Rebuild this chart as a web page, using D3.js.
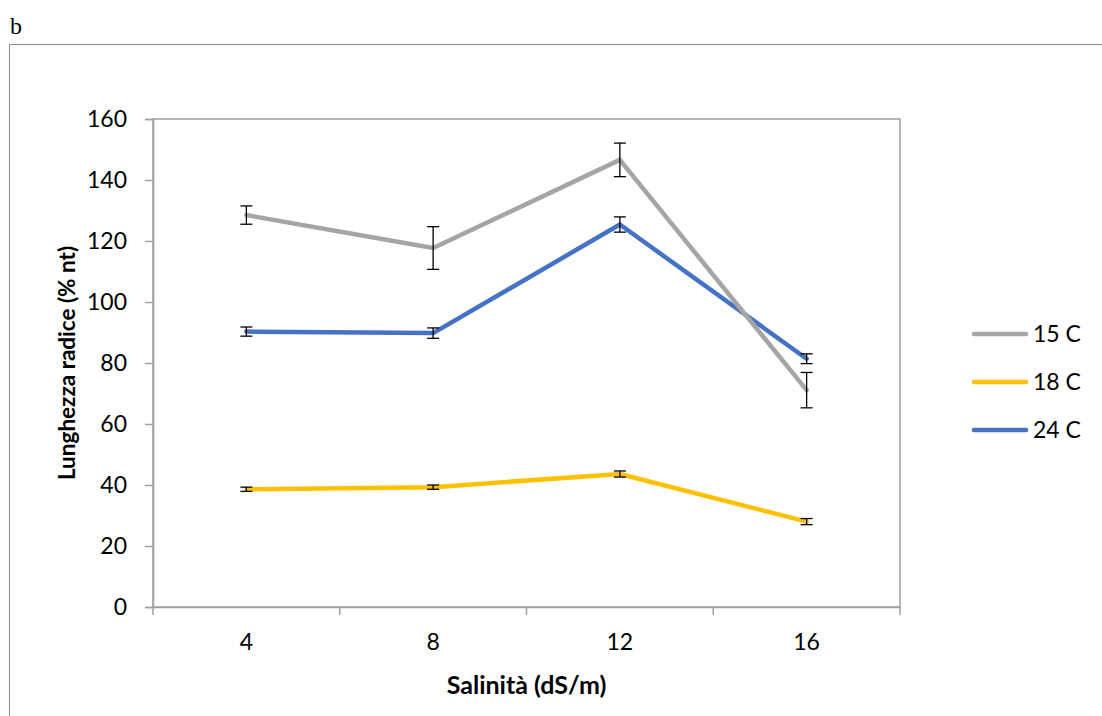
<!DOCTYPE html>
<html><head><meta charset="utf-8">
<script src="https://cdn.jsdelivr.net/npm/d3@7"></script>
<style>body{margin:0;background:#fff;} svg{display:block;}</style>
</head><body>
<svg id="chart" width="1102" height="716"></svg>
<script>
const categories = ["4", "8", "12", "16"];
const seriesNames = ["15 C", "18 C", "24 C"];
const values15 = [128.5, 117.7, 146.6, 71.1];
const errors15 = [3.0, 7.0, 5.5, 5.8];
const values18 = [38.6, 39.3, 43.6, 28.0];
const errors18 = [0.7, 0.7, 1.0, 1.0];
const values24 = [90.3, 89.8, 125.4, 81.4];
const errors24 = [1.5, 1.7, 2.5, 1.6];
const yTicks = [0, 20, 40, 60, 80, 100, 120, 140, 160];
const colors = ["#A5A5A5", "#FFC000", "#4472C4"];

const series = [
  {name: seriesNames[0], values: values15, errors: errors15, color: colors[0]},
  {name: seriesNames[1], values: values18, errors: errors18, color: colors[1]},
  {name: seriesNames[2], values: values24, errors: errors24, color: colors[2]}
];
const drawOrder = [1, 2, 0];

const svg = d3.select("#chart");
const font = "Lato, 'Open Sans', sans-serif";
const fs = 23;

// outer frame (top and left edges)
svg.append("path").attr("d", "M9.5,716 V44.5 H1102")
  .attr("fill", "none").attr("stroke", "#8c8c8c").attr("stroke-width", 1);
svg.append("text").attr("x", 10).attr("y", 34).text("b")
  .attr("font-family", "'Liberation Serif', 'Times New Roman', serif")
  .attr("font-size", 24).attr("fill", "#000");

const L = 153, R = 900, T = 119, B = 607;
const x = d3.scaleBand().domain(categories).range([L, R]).paddingInner(0).paddingOuter(0);
const y = d3.scaleLinear().domain([0, 160]).range([B, T]);

// plot area border
svg.append("rect").attr("x", L).attr("y", T).attr("width", R - L).attr("height", B - T)
  .attr("fill", "none").attr("stroke", "#a0a0a0").attr("stroke-width", 1.5);

// y axis
const yAxis = d3.axisLeft(y).tickValues(yTicks).tickSize(8).tickPadding(18).tickFormat(d3.format("d"));
const gy = svg.append("g").attr("transform", `translate(${L},0)`).call(yAxis);
gy.select(".domain").attr("stroke", "#a0a0a0").attr("stroke-width", 1.5);
gy.selectAll(".tick line").attr("stroke", "#a0a0a0").attr("stroke-width", 1.5);
gy.selectAll(".tick text").attr("font-family", font).attr("font-size", fs).attr("fill", "#000");

// x axis
const xAxis = d3.axisBottom(x).tickSize(0).tickPadding(27);
const gx = svg.append("g").attr("transform", `translate(0,${B})`).call(xAxis);
gx.select(".domain").attr("stroke", "#a0a0a0").attr("stroke-width", 1.5);
gx.selectAll(".tick text").attr("font-family", font).attr("font-size", fs).attr("fill", "#000");
const bounds = categories.map(c => x(c)).concat([x(categories[categories.length - 1]) + x.bandwidth()]);
gx.selectAll("line.bound").data(bounds).enter().append("line").attr("class", "bound")
  .attr("x1", d => d).attr("x2", d => d).attr("y1", 0).attr("y2", 8)
  .attr("stroke", "#a0a0a0").attr("stroke-width", 1.5);

// axis titles
svg.append("text").attr("transform", `translate(75,${(T + B) / 2}) rotate(-90)`)
  .attr("text-anchor", "middle").attr("font-family", font).attr("font-weight", "bold")
  .attr("font-size", 22.5).text("Lunghezza radice (% nt)");
svg.append("text").attr("x", (L + R) / 2).attr("y", 694).attr("text-anchor", "middle")
  .attr("font-family", font).attr("font-weight", "bold").attr("font-size", 25).text("Salinità (dS/m)");

const cx = c => x(c) + x.bandwidth() / 2;
const line = d3.line().x((d, i) => cx(categories[i])).y(d => y(d));

drawOrder.forEach(k => {
  const s = series[k];
  svg.append("path").datum(s.values).attr("d", line)
    .attr("fill", "none").attr("stroke", s.color).attr("stroke-width", 4.5)
    .attr("stroke-linejoin", "round").attr("stroke-linecap", "round");
});
series.forEach(s => {
  const g = svg.append("g");
  s.values.forEach((v, i) => {
    const px = cx(categories[i]);
    const y1 = y(v + s.errors[i]), y2 = y(v - s.errors[i]);
    g.append("line").attr("x1", px).attr("x2", px).attr("y1", y1).attr("y2", y2)
      .attr("stroke", "#000").attr("stroke-width", 1.3);
    [y1, y2].forEach(yy => g.append("line").attr("x1", px - 6).attr("x2", px + 6)
      .attr("y1", yy).attr("y2", yy).attr("stroke", "#000").attr("stroke-width", 1.3));
  });
});

// legend
const legendY = [334, 382, 430];
series.forEach((s, i) => {
  svg.append("line").attr("x1", 974).attr("x2", 1026).attr("y1", legendY[i]).attr("y2", legendY[i])
    .attr("stroke", s.color).attr("stroke-width", 4.5).attr("stroke-linecap", "round");
  svg.append("text").attr("x", 1033).attr("y", legendY[i]).attr("dy", "0.35em")
    .attr("font-family", font).attr("font-size", fs).text(s.name);
});
</script>
</body></html>
